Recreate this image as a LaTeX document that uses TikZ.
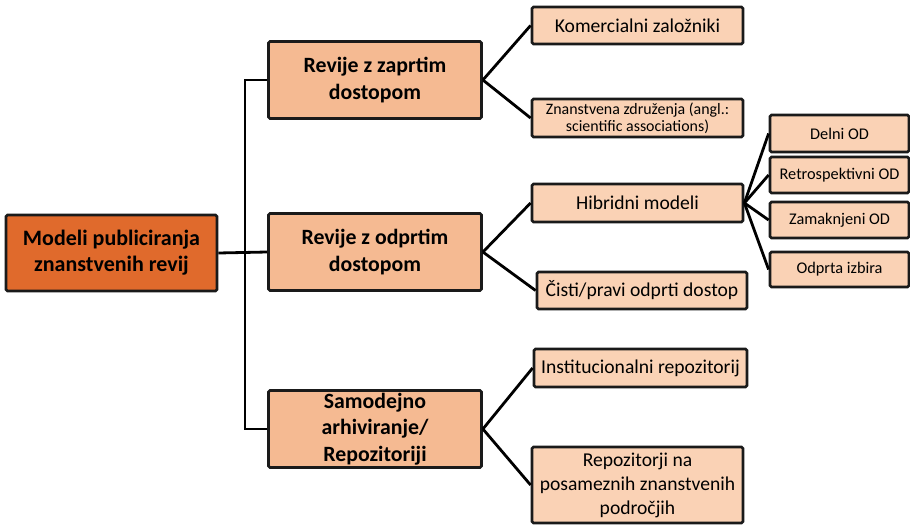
\documentclass[tikz,border=0pt]{standalone}
\usepackage{fontspec}
\setmainfont{Carlito}
\definecolor{rootfill}{HTML}{E06A2C}
\definecolor{midfill}{HTML}{F5BA92}
\definecolor{leaffill}{HTML}{FAD2B5}
\definecolor{edge}{HTML}{1A1A1A}
\tikzset{
  box/.style={draw=edge, line width=2.8pt, rounded corners=1.5pt, align=center, inner sep=0pt},
  rootbox/.style={box, fill=rootfill, font=\fontsize{22}{26}\selectfont\bfseries},
  midbox/.style={box, fill=midfill, minimum width=213pt, minimum height=77pt, font=\fontsize{21.8}{26.5}\selectfont\bfseries},
  leafbox/.style={box, fill=leaffill, font=\fontsize{19.6}{24}\selectfont},
  subbox/.style={box, fill=leaffill, minimum width=139pt, font=\fontsize{16.3}{19}\selectfont},
  link/.style={draw=black, line width=2.8pt}
}
\begin{document}
\begin{tikzpicture}[x=1pt, y=-1pt]
  \useasboundingbox (0,0) rectangle (910,525);

  % root and first level
  \node[rootbox, minimum width=211pt, minimum height=76pt] (root) at (111.5,253) {Modeli publiciranja\\znanstvenih revij};
  \node[midbox] (b1) at (375,80) {Revije z zaprtim\\dostopom};
  \node[midbox] (b2) at (375,252) {Revije z odprtim\\dostopom};
  \node[midbox] (b3) at (375,429) {Samodejno\\arhiviranje/\\Repozitoriji};
  \coordinate (trunk) at (245,252);

  % second level
  \node[leafbox, minimum width=211pt, minimum height=37pt] (l1) at (637.5,25.5) {Komercialni založniki};
  \node[leafbox, minimum width=211pt, minimum height=38pt, font=\fontsize{15.9}{16.8}\selectfont] (l2) at (637.5,118) {Znanstvena združenja (angl.:\\scientific associations)};
  \node[leafbox, minimum width=211pt, minimum height=38pt] (l3) at (637.5,203) {Hibridni modeli};
  \node[leafbox, minimum width=210pt, minimum height=37pt] (l4) at (642,290.5) {Čisti/pravi odprti dostop};
  \node[leafbox, minimum width=213pt, minimum height=38pt] (l5) at (640.5,368) {Institucionalni repozitorij};
  \node[leafbox, minimum width=211pt, minimum height=76pt] (l6) at (637.5,485) {Repozitorji na\\posameznih znanstvenih\\področjih};

  % third level
  \node[subbox, minimum height=37pt] (s1) at (839.5,133.5) {Delni OD};
  \node[subbox, minimum height=36pt] (s2) at (839.5,175) {Retrospektivni OD};
  \node[subbox, minimum height=36pt] (s3) at (839.5,220) {Zamaknjeni OD};
  \node[subbox, minimum height=35pt] (s4) at (839.5,269.5) {Odprta izbira};

  % connectors
  \draw[link] (root.east) -- (b2.west);
  \draw[link] (b1.west) -| (trunk) |- (b3.west);
  \foreach \a/\b in {b1/l1, b1/l2, b2/l3, b2/l4, b3/l5, b3/l6, l3/s1, l3/s2, l3/s3, l3/s4}
    \draw[link] (\a.east) -- (\b.west);
\end{tikzpicture}
\end{document}
